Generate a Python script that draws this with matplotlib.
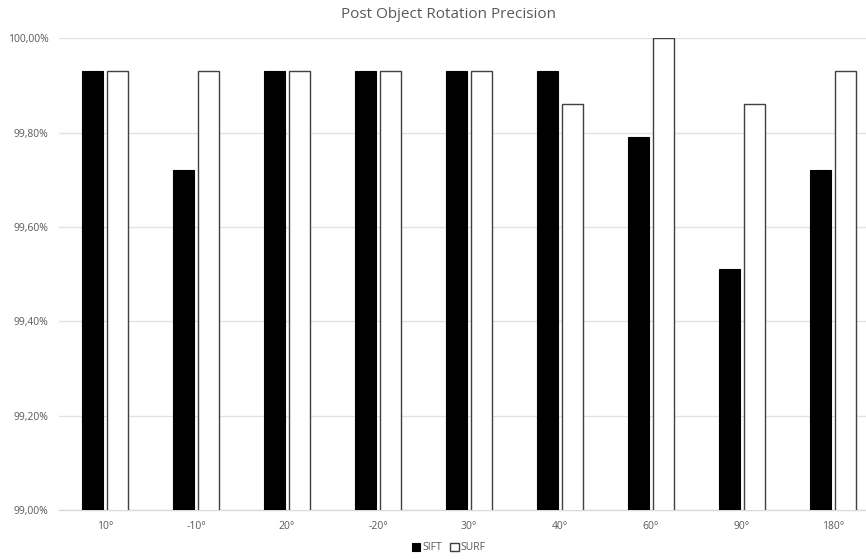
import numpy as np
import matplotlib.pyplot as plt
from matplotlib.ticker import FuncFormatter, MultipleLocator

# Precision (%) per rotation angle for each detector
angles = ['10°', '-10°', '20°', '-20°', '30°', '40°', '60°', '90°', '180°']
sift = [99.93, 99.72, 99.93, 99.93, 99.93, 99.93, 99.79, 99.51, 99.72]
surf = [99.93, 99.93, 99.93, 99.93, 99.93, 99.86, 100.00, 99.86, 99.93]

plt.rcParams['font.family'] = ['Open Sans', 'DejaVu Sans']

fig = plt.figure(figsize=(8.66, 5.59), dpi=100)
ax = fig.add_axes([0.0687, 0.0877, 0.9457, 0.8438])

x = np.arange(len(angles))
w = 0.23
ax.bar(x - 0.142, sift, w, color='black', edgecolor='black', linewidth=0.8,
       label='SIFT', zorder=3)
ax.bar(x + 0.142, surf, w, color='white', edgecolor='#404040', linewidth=1.0,
       label='SURF', zorder=3)

ax.set_ylim(99.0, 100.0)
ax.set_xlim(-0.5, len(angles) - 0.5)
ax.yaxis.set_major_locator(MultipleLocator(0.2))
ax.yaxis.set_major_formatter(
    FuncFormatter(lambda v, p: f'{v:.2f}%'.replace('.', ',')))
ax.set_xticks(x)
ax.set_xticklabels(angles)

ax.grid(axis='y', color='#e2e2e2', linewidth=1.0, zorder=0)
for s in ['top', 'right', 'left']:
    ax.spines[s].set_visible(False)
ax.spines['bottom'].set_color('#d9d9d9')
ax.spines['bottom'].set_linewidth(1.0)
ax.tick_params(length=0, labelsize=7.5, colors='#595959', pad=8)

fig.text(448 / 866, 1 - 14 / 559, 'Post Object Rotation Precision',
         ha='center', va='center', fontsize=11, color='#595959')

fig.legend(loc='center', bbox_to_anchor=(449 / 866, 1 - 548 / 559), ncol=2,
           frameon=False, fontsize=7.5, handlelength=0.8, handleheight=0.8,
           handletextpad=0.2, columnspacing=0.8, labelcolor='#595959')

fig.savefig('out.png', dpi=100)
